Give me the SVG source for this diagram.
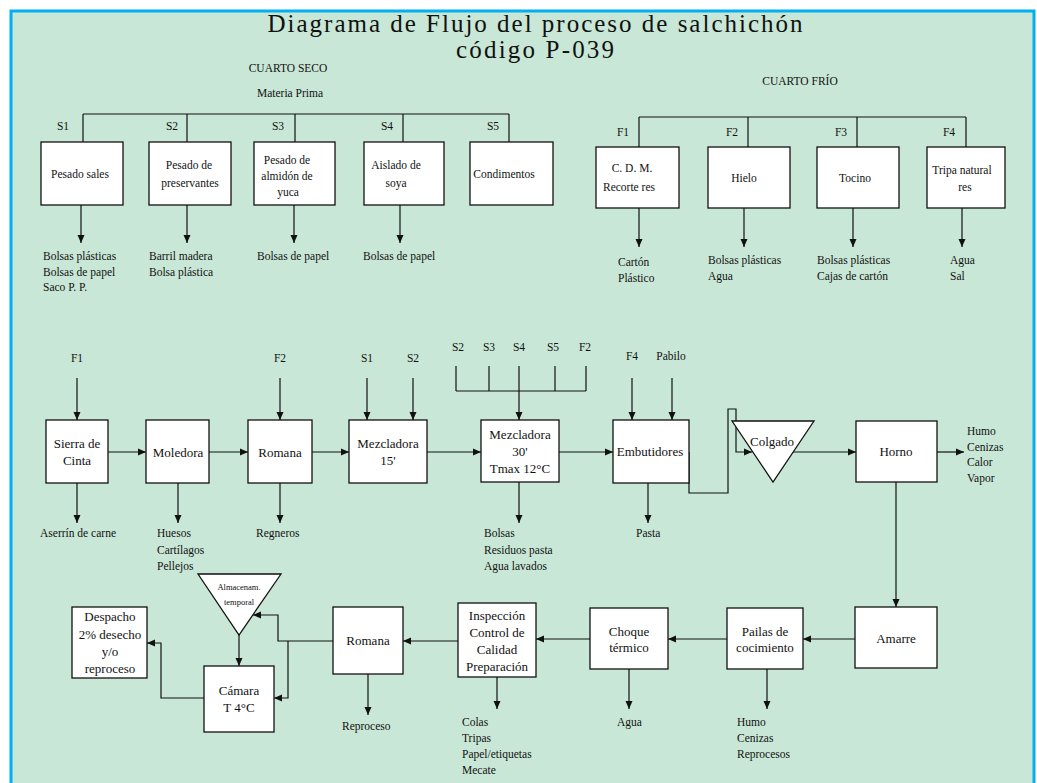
<svg xmlns="http://www.w3.org/2000/svg" width="1037" height="783" viewBox="0 0 1037 783">
<defs>
<marker id="ah" markerUnits="userSpaceOnUse" markerWidth="9" markerHeight="8" refX="8" refY="4" orient="auto"><path d="M0,0.5 L8,4 L0,7.5 z" fill="#111"/></marker>
</defs>
<style>
.box{fill:#fff;stroke:#111;stroke-width:1.3}
.c{fill:none;stroke:#111;stroke-width:1.2}
.a{marker-end:url(#ah)}
text{font-family:"Liberation Serif","Times New Roman",serif;fill:#111}
.s{font-size:11.5px}
.b{font-size:13px}
.m{text-anchor:middle}
.title{font-size:25px}
</style>
<rect x="0" y="0" width="1037" height="783" fill="#fff"/>
<rect x="11" y="11" width="1023" height="800" fill="#c9e7d6" stroke="#00b0f0" stroke-width="3"/>

<g id="title">
<text class="title m" x="535" y="32" textLength="535" lengthAdjust="spacing">Diagrama de Flujo del proceso de salchichón</text>
<text class="title m" x="535" y="58" textLength="158" lengthAdjust="spacing">código P-039</text>
</g>

<g id="headers" class="s">
<text class="s m" x="288" y="72">CUARTO SECO</text>
<text class="s m" x="290" y="97">Materia Prima</text>
<text class="s m" x="800" y="85">CUARTO FRÍO</text>
<text class="s m" x="63" y="130">S1</text>
<text class="s m" x="172" y="130">S2</text>
<text class="s m" x="278" y="130">S3</text>
<text class="s m" x="387" y="130">S4</text>
<text class="s m" x="493" y="130">S5</text>
<text class="s m" x="623" y="136">F1</text>
<text class="s m" x="732" y="136">F2</text>
<text class="s m" x="841" y="136">F3</text>
<text class="s m" x="949" y="136">F4</text>
</g>

<g id="connectors">
<path class="c" d="M83,114 H509 M83,114 V142 M187,114 V142 M295,114 V142 M403,114 V142 M509,114 V142"/>
<path class="c a" d="M81,205 V243"/>
<path class="c a" d="M187,205 V243"/>
<path class="c a" d="M294,205 V243"/>
<path class="c a" d="M400,205 V243"/>
<path class="c" d="M639,117 H966 M639,117 V147 M748,117 V147 M857,117 V147 M966,117 V147"/>
<path class="c a" d="M639,208 V247"/>
<path class="c a" d="M744,208 V247"/>
<path class="c a" d="M853,208 V247"/>
<path class="c a" d="M962,208 V247"/>
<path class="c a" d="M77,378 V420"/>
<path class="c a" d="M280,378 V420"/>
<path class="c a" d="M367,378 V420"/>
<path class="c a" d="M413,378 V420"/>
<path class="c" d="M456,366 V391 M489,366 V391 M519,366 V391 M555,366 V391 M586,366 V391 M456,391 H586"/>
<path class="c a" d="M519,391 V420"/>
<path class="c a" d="M632,378 V420"/>
<path class="c a" d="M672,378 V420"/>
<path class="c a" d="M108,452 H146"/>
<path class="c a" d="M209,452 H248"/>
<path class="c a" d="M312,452 H349"/>
<path class="c a" d="M427,452 H481"/>
<path class="c a" d="M559,452 H613"/>
<path class="c a" d="M689,452 V493 H728 V409 H736 V452 H752"/>
<path class="c a" d="M793,452 H856"/>
<path class="c a" d="M937,452 H964"/>
<path class="c a" d="M896,482 V607"/>
<path class="c a" d="M77,483 V523"/>
<path class="c a" d="M178,483 V523"/>
<path class="c a" d="M280,483 V523"/>
<path class="c a" d="M519,482 V523"/>
<path class="c a" d="M648,483 V523"/>
<path class="c a" d="M855,639 H803"/>
<path class="c a" d="M727,639 H668"/>
<path class="c a" d="M590,639 H536"/>
<path class="c a" d="M458,641 H403"/>
<path class="c a" d="M333,641 H278 V615 H253"/>
<path class="c a" d="M288,641 V698 H274"/>
<path class="c a" d="M239,635 V666"/>
<path class="c a" d="M204,698 H161 V643 H147"/>
<path class="c a" d="M767,669 V709"/>
<path class="c a" d="M629,669 V709"/>
<path class="c a" d="M497,677 V709"/>
<path class="c a" d="M368,674 V715"/>
</g>

<g id="pesado-sales">
<rect class="box" x="41" y="142" width="82" height="63"/>
<text class="s m" x="80" y="178">Pesado sales</text>
</g>
<g id="pesado-preservantes">
<rect class="box" x="149" y="142" width="82" height="63"/>
<text class="s m" x="189" y="169">Pesado de</text>
<text class="s m" x="190" y="187">preservantes</text>
</g>
<g id="pesado-almidon">
<rect class="box" x="254" y="142" width="81" height="63"/>
<text class="s m" x="287" y="164">Pesado de</text>
<text class="s m" x="287" y="180">almidón de</text>
<text class="s m" x="288" y="196">yuca</text>
</g>
<g id="aislado-soya">
<rect class="box" x="364" y="142" width="80" height="63"/>
<text class="s m" x="396" y="169">Aislado de</text>
<text class="s m" x="396" y="187">soya</text>
</g>
<g id="condimentos">
<rect class="box" x="470" y="142" width="83" height="63"/>
<text class="s m" x="504" y="178">Condimentos</text>
</g>

<g id="cdm">
<rect class="box" x="596" y="147" width="83" height="61"/>
<text class="s m" x="632" y="172">C. D. M.</text>
<text class="s m" x="629" y="191">Recorte res</text>
</g>
<g id="hielo">
<rect class="box" x="708" y="147" width="82" height="61"/>
<text class="s m" x="744" y="182">Hielo</text>
</g>
<g id="tocino">
<rect class="box" x="817" y="147" width="82" height="61"/>
<text class="s m" x="855" y="182">Tocino</text>
</g>
<g id="tripa">
<rect class="box" x="927" y="147" width="78" height="61"/>
<text class="s m" x="962" y="174">Tripa natural</text>
<text class="s m" x="965" y="191">res</text>
</g>

<g id="top-outputs" class="s">
<text class="s" x="43" y="260">Bolsas plásticas</text>
<text class="s" x="43" y="275.5">Bolsas de papel</text>
<text class="s" x="43" y="291">Saco P. P.</text>
<text class="s" x="149" y="260">Barril madera</text>
<text class="s" x="149" y="275.5">Bolsa plástica</text>
<text class="s" x="257" y="260">Bolsas de papel</text>
<text class="s" x="363" y="260">Bolsas de papel</text>
<text class="s" x="618" y="266">Cartón</text>
<text class="s" x="618" y="282">Plástico</text>
<text class="s" x="708" y="264">Bolsas plásticas</text>
<text class="s" x="708" y="280">Agua</text>
<text class="s" x="817" y="264">Bolsas plásticas</text>
<text class="s" x="817" y="280">Cajas de cartón</text>
<text class="s" x="950" y="264">Agua</text>
<text class="s" x="950" y="280">Sal</text>
</g>

<g id="middle-inputs">
<text class="s m" x="77" y="362">F1</text>
<text class="s m" x="280" y="362">F2</text>
<text class="s m" x="367" y="362">S1</text>
<text class="s m" x="413" y="362">S2</text>
<text class="s m" x="458" y="351">S2</text>
<text class="s m" x="489" y="351">S3</text>
<text class="s m" x="519" y="351">S4</text>
<text class="s m" x="553" y="351">S5</text>
<text class="s m" x="585" y="351">F2</text>
<text class="s m" x="632" y="360">F4</text>
<text class="s m" x="671" y="360">Pabilo</text>
</g>

<g id="sierra">
<rect class="box" x="46" y="420" width="62" height="63"/>
<text class="b m" x="77" y="447.5">Sierra de</text>
<text class="b m" x="77" y="465">Cinta</text>
</g>
<g id="moledora">
<rect class="box" x="146" y="420" width="63" height="63"/>
<text class="b m" x="178" y="456.5">Moledora</text>
</g>
<g id="romana-1">
<rect class="box" x="248" y="420" width="64" height="63"/>
<text class="b m" x="280" y="456.5">Romana</text>
</g>
<g id="mezcladora-15">
<rect class="box" x="349" y="420" width="78" height="63"/>
<text class="b m" x="388" y="447.5">Mezcladora</text>
<text class="b m" x="388" y="465">15'</text>
</g>
<g id="mezcladora-30">
<rect class="box" x="481" y="420" width="78" height="62"/>
<text class="b m" x="520" y="438.5">Mezcladora</text>
<text class="b m" x="520" y="456">30'</text>
<text class="b m" x="520" y="473">Tmax 12°C</text>
</g>
<g id="embutidores">
<rect class="box" x="613" y="420" width="76" height="63"/>
<text class="b m" x="650" y="456">Embutidores</text>
</g>
<g id="colgado">
<path class="box" d="M732,421 L814,421 L773,482 Z"/>
<text class="b m" x="772" y="446">Colgado</text>
</g>
<g id="horno">
<rect class="box" x="856" y="421" width="81" height="61"/>
<text class="b m" x="896" y="456">Horno</text>
</g>

<g id="middle-outputs">
<text class="s" x="40" y="537">Aserrín de carne</text>
<text class="s" x="157" y="537">Huesos</text>
<text class="s" x="157" y="553.5">Cartílagos</text>
<text class="s" x="157" y="570">Pellejos</text>
<text class="s" x="256" y="537">Regneros</text>
<text class="s" x="484" y="537">Bolsas</text>
<text class="s" x="484" y="553.5">Residuos pasta</text>
<text class="s" x="484" y="570">Agua lavados</text>
<text class="s" x="636" y="537">Pasta</text>
<text class="s" x="967" y="435">Humo</text>
<text class="s" x="967" y="451">Cenizas</text>
<text class="s" x="967" y="466">Calor</text>
<text class="s" x="967" y="481.5">Vapor</text>
</g>

<g id="amarre">
<rect class="box" x="855" y="607" width="82" height="61"/>
<text class="b m" x="896" y="643">Amarre</text>
</g>
<g id="pailas">
<rect class="box" x="727" y="608" width="76" height="61"/>
<text class="b m" x="765" y="636">Pailas de</text>
<text class="b m" x="765" y="652">cocimiento</text>
</g>
<g id="choque">
<rect class="box" x="590" y="608" width="78" height="61"/>
<text class="b m" x="629" y="636">Choque</text>
<text class="b m" x="629" y="651.5">térmico</text>
</g>
<g id="inspeccion">
<rect class="box" x="458" y="603" width="78" height="74"/>
<text class="b m" x="497" y="619.5">Inspección</text>
<text class="b m" x="497" y="637">Control de</text>
<text class="b m" x="497" y="653.5">Calidad</text>
<text class="b m" x="497" y="671">Preparación</text>
</g>
<g id="romana-2">
<rect class="box" x="333" y="607" width="70" height="67"/>
<text class="b m" x="368" y="645">Romana</text>
</g>
<g id="almacenamiento">
<path class="box" d="M198,574 L281,574 L239,635 Z"/>
<text class="m" x="239" y="590" font-size="8.5">Almacenam.</text>
<text class="m" x="239" y="605" font-size="8.5">temporal</text>
</g>
<g id="camara">
<rect class="box" x="204" y="666" width="70" height="66"/>
<text class="b m" x="239" y="695">Cámara</text>
<text class="b m" x="239" y="712">T 4°C</text>
</g>
<g id="despacho">
<rect class="box" x="72" y="607" width="75" height="71"/>
<text class="b m" x="110" y="621">Despacho</text>
<text class="b m" x="110" y="638.5">2% desecho</text>
<text class="b m" x="110" y="656">y/o</text>
<text class="b m" x="110" y="673">reproceso</text>
</g>

<g id="bottom-outputs">
<text class="s" x="342" y="730">Reproceso</text>
<text class="s" x="462" y="726">Colas</text>
<text class="s" x="462" y="742">Tripas</text>
<text class="s" x="462" y="758">Papel/etiquetas</text>
<text class="s" x="462" y="774">Mecate</text>
<text class="s" x="617" y="726">Agua</text>
<text class="s" x="737" y="726">Humo</text>
<text class="s" x="737" y="742">Cenizas</text>
<text class="s" x="737" y="758">Reprocesos</text>
</g>
</svg>
